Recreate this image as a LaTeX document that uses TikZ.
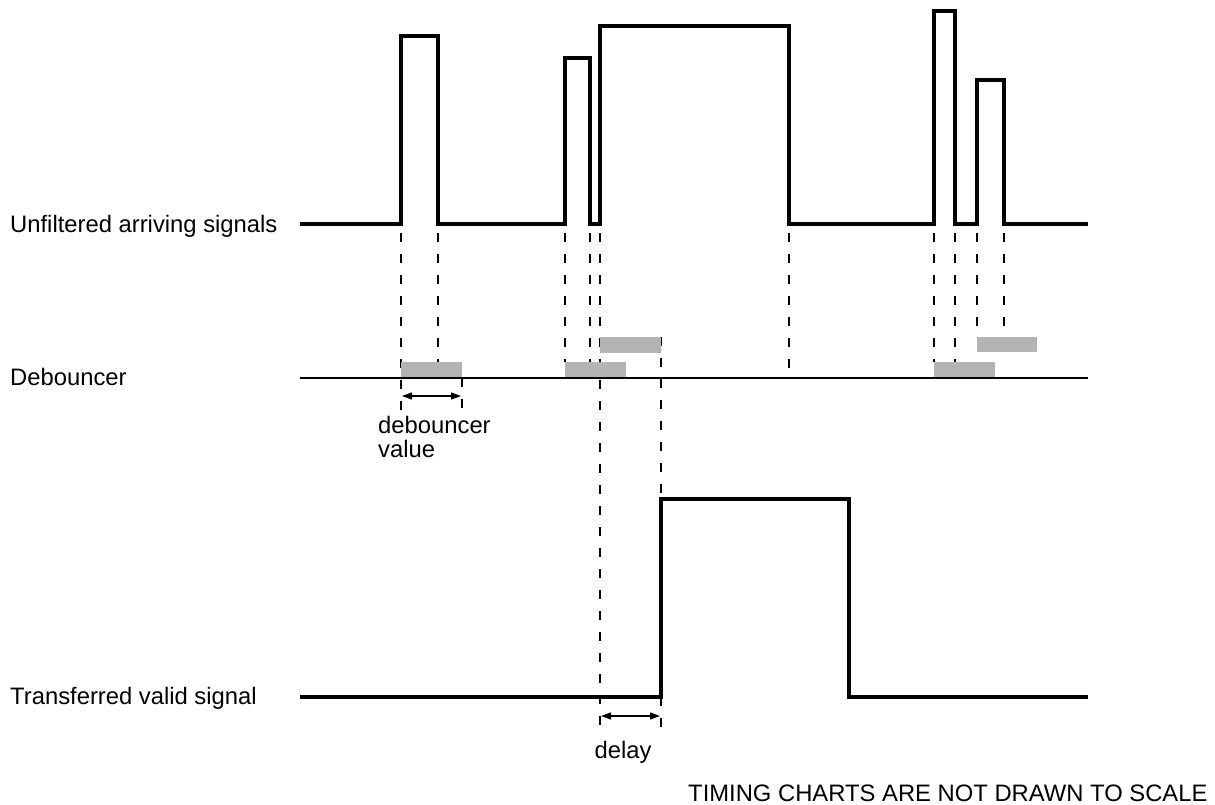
\documentclass[tikz,border=0pt]{standalone}
\usepackage{fontspec}
\setmainfont{Liberation Sans}
\usetikzlibrary{arrows.meta}
\definecolor{bargray}{RGB}{180,180,180}
\tikzset{
  wave/.style={line width=3.2pt, line join=miter},
  axis/.style={line width=2.3pt},
  guide/.style={line width=2.2pt, dash pattern=on 9pt off 12pt},
  window/.style={fill=bargray},
  span/.style={line width=1.1pt, {Triangle[length=10pt,width=7pt]}-{Triangle[length=10pt,width=7pt]}},
  label/.style={inner sep=0pt, font=\fontsize{23.8}{24}\selectfont}
}
\begin{document}
\begin{tikzpicture}[x=1pt, y=-1pt]
    \useasboundingbox (0,0) rectangle (1215,804);
    % guide lines
    \draw[guide] (401,233) -- (401,410);
    \draw[guide] (438,233) -- (438,362);
    \draw[guide] (462,378) -- (462,410);
    \draw[guide] (565,233) -- (565,362);
    \draw[guide] (590,233) -- (590,362);
    \draw[guide] (600,233) -- (600,728);
    \draw[guide] (661,337) -- (661,499);
    \draw[guide] (661,697) -- (661,728);
    \draw[guide] (789,233) -- (789,378);
    \draw[guide] (934,233) -- (934,362);
    \draw[guide] (955,233) -- (955,362);
    \draw[guide] (977,233) -- (977,337);
    \draw[guide] (1004,233) -- (1004,337);
    % debouncer windows
    \fill[window] (401,362) rectangle (462,377);
    \fill[window] (565,362) rectangle (626,377);
    \fill[window] (600,337) rectangle (661,353);
    \fill[window] (934,362) rectangle (995,377);
    \fill[window] (977,337) rectangle (1037,352);
    % signals
    \draw[wave] (300,224) -| (401,36) -| (438,224) -| (565,58) -| (590,224)
        -| (600,26) -| (789,224) -| (934,11) -| (955,224) -| (977,80) -| (1004,224) -- (1088,224);
    \draw[axis] (300,378) -- (1088,378);
    \draw[wave] (300,697) -| (661,499) -| (849,697) -- (1088,697);
    % spans
    \coordinate (dbL) at (402,396);
    \coordinate (dbR) at (461,396);
    \draw[span] (dbL) -- (dbR);
    \coordinate (dlL) at (601,716);
    \coordinate (dlR) at (660,716);
    \draw[span] (dlL) -- (dlR);
    % labels
    \node[label, anchor=base west] (sig) at (10,232) {Unfiltered arriving signals};
    \node[label, anchor=base west] (deb) at (10,385) {Debouncer};
    \node[label, anchor=base west] (out) at (10,704) {Transferred valid signal};
    \node[label, anchor=north west, align=left] (dbv) at (378,416) {debouncer\\value};
    \node[label, anchor=base] (dly) at (623,758) {delay};
    \node[label, anchor=base west] (note) at (688,801) {TIMING CHARTS ARE NOT DRAWN TO SCALE};
  \end{tikzpicture}
\end{document}
